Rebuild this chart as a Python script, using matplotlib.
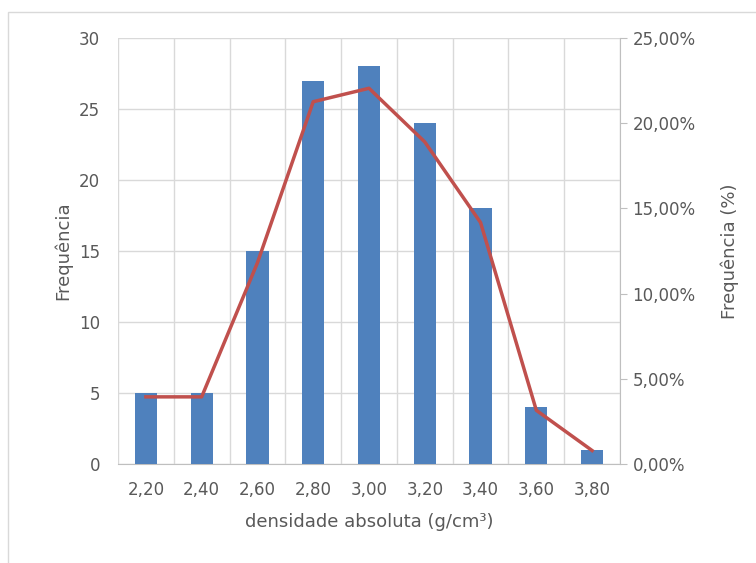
import numpy as np
import matplotlib
matplotlib.use('Agg')
import matplotlib.pyplot as plt
from matplotlib.patches import Rectangle
from matplotlib.ticker import FuncFormatter

plt.rcParams['font.family'] = ['Liberation Sans Narrow', 'DejaVu Sans']

densidade = ['2,20', '2,40', '2,60', '2,80', '3,00', '3,20', '3,40', '3,60', '3,80']
frequencia = [5, 5, 15, 27, 28, 24, 18, 4, 1]
frequencia_pct = [3.94, 3.94, 11.81, 21.26, 22.05, 18.90, 14.17, 3.15, 0.79]

txt = '#595959'
grid = '#D9D9D9'

fig = plt.figure(figsize=(7.56, 5.63), dpi=100)
fig.patches.append(Rectangle((8/756, -0.05), 1.0, (563-12)/563 + 0.05,
                             transform=fig.transFigure, fill=False,
                             edgecolor=grid, linewidth=1))

ax = fig.add_axes([118/756, 99/563, 502/756, 426/563])
x = np.arange(len(densidade))
ax.bar(x, frequencia, width=0.4, color='#4F81BD', zorder=3)
ax.set_xlim(-0.5, len(densidade) - 0.5)
ax.set_ylim(0, 30)
ax.set_yticks(range(0, 31, 5))
ax.set_xticks(x)
ax.set_xticklabels(densidade)
ax.set_xticks(np.arange(-0.5, len(densidade)), minor=True)
ax.grid(True, which='major', axis='y', color=grid, linewidth=1, zorder=0)
ax.grid(True, which='minor', axis='x', color=grid, linewidth=1, zorder=0)
ax.tick_params(axis='both', which='both', length=0, colors=txt, labelsize=12)
ax.tick_params(axis='x', pad=12)
ax.tick_params(axis='y', pad=13)
for s in ['top', 'left', 'right']:
    ax.spines[s].set_visible(False)
ax.spines['bottom'].set_color('#BFBFBF')
ax.set_xlabel('densidade absoluta (g/cm³)', color=txt, fontsize=13, labelpad=10)
ax.set_ylabel('Frequência', color=txt, fontsize=13, labelpad=5)

ax2 = ax.twinx()
ax2.plot(x, frequencia_pct, color='#C0504D', linewidth=2.5, zorder=4)
ax2.set_ylim(0, 25)
ax2.set_yticks(range(0, 26, 5))
ax2.yaxis.set_major_formatter(FuncFormatter(lambda v, p: ('%.2f%%' % v).replace('.', ',')))
for s in ['top', 'left', 'bottom']:
    ax2.spines[s].set_visible(False)
ax2.spines['right'].set_color('#BFBFBF')
ax2.tick_params(axis='y', direction='out', length=5, color='#BFBFBF', colors=txt,
                labelsize=12, pad=4)
ax2.set_ylabel('Frequência (%)', color=txt, fontsize=13, labelpad=18)

plt.savefig('out.png', dpi=100)
